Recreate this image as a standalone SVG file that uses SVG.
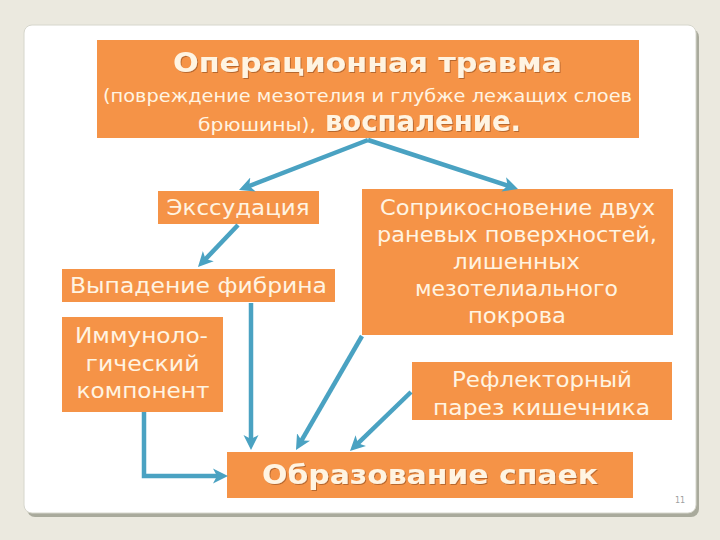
<svg xmlns="http://www.w3.org/2000/svg" width="720" height="540" viewBox="0 0 720 540">
<defs>
<style>
.box{fill:#F59347;}
.t{font-family:"DejaVu Sans",sans-serif;fill:#FFF4E2;text-anchor:middle;}
.r{font-size:21px;}
.s{font-size:18px;}
.b{font-weight:bold;filter:url(#sh);}
.c{fill:none;stroke:#4AA2C2;stroke-width:4.5;}
</style>
<filter id="sh" x="-5%" y="-20%" width="110%" height="140%">
<feDropShadow dx="1" dy="1" stdDeviation="0.6" flood-color="#7a3d10" flood-opacity="0.5"/>
</filter>
<marker id="ah" markerUnits="userSpaceOnUse" markerWidth="18" markerHeight="18" viewBox="0 0 18 18" refX="9" refY="9" orient="auto">
<path d="M0,1.5 L15,9 L0,16.5 L4,9 z" fill="#4AA2C2"/>
</marker>
</defs>
<rect width="720" height="540" fill="#EBE9DF"/>
<rect x="27" y="29" width="672" height="488" rx="8" fill="#A9AA9C"/>
<rect x="24" y="25" width="672" height="488" rx="8" fill="#FFFFFF" stroke="#D6D6CC" stroke-width="1"/>

<g id="n-top">
<rect class="box" x="97" y="40" width="542" height="98"/>
<text class="t b" x="367.5" y="72" font-size="26" textLength="389" lengthAdjust="spacingAndGlyphs">Операционная травма</text>
<text class="t s" x="367.5" y="102" textLength="529" lengthAdjust="spacingAndGlyphs">(повреждение мезотелия и глубже лежащих слоев</text>
<text class="t s" x="257" y="131" textLength="118" lengthAdjust="spacingAndGlyphs">брюшины),</text>
<text class="t b" x="423" y="131" font-size="28" textLength="196" lengthAdjust="spacingAndGlyphs">воспаление.</text>
</g>

<g id="n-exs">
<rect class="box" x="158" y="191" width="161" height="33"/>
<text class="t r" x="238" y="215" textLength="143" lengthAdjust="spacingAndGlyphs">Экссудация</text>
</g>

<g id="n-fib">
<rect class="box" x="62" y="269" width="273" height="33"/>
<text class="t r" x="198.5" y="293" textLength="257" lengthAdjust="spacingAndGlyphs">Выпадение фибрина</text>
</g>

<g id="n-imm">
<rect class="box" x="62" y="317" width="161" height="95"/>
<text class="t r" x="141.5" y="343" textLength="133" lengthAdjust="spacingAndGlyphs">Иммуноло-</text>
<text class="t r" x="142.5" y="371" textLength="114" lengthAdjust="spacingAndGlyphs">гический</text>
<text class="t r" x="143" y="398" textLength="133" lengthAdjust="spacingAndGlyphs">компонент</text>
</g>

<g id="n-contact">
<rect class="box" x="362" y="189" width="311" height="146"/>
<text class="t r" x="517.5" y="215" textLength="275" lengthAdjust="spacingAndGlyphs">Соприкосновение двух</text>
<text class="t r" x="517" y="242" textLength="280" lengthAdjust="spacingAndGlyphs">раневых поверхностей,</text>
<text class="t r" x="516.5" y="269" textLength="127" lengthAdjust="spacingAndGlyphs">лишенных</text>
<text class="t r" x="516.5" y="296" textLength="203" lengthAdjust="spacingAndGlyphs">мезотелиального</text>
<text class="t r" x="517" y="323" textLength="98" lengthAdjust="spacingAndGlyphs">покрова</text>
</g>

<g id="n-refl">
<rect class="box" x="412" y="362" width="260" height="58"/>
<text class="t r" x="542" y="387" textLength="180" lengthAdjust="spacingAndGlyphs">Рефлекторный</text>
<text class="t r" x="541.5" y="415" textLength="217" lengthAdjust="spacingAndGlyphs">парез кишечника</text>
</g>

<g id="n-adh">
<rect class="box" x="227" y="452" width="406" height="46"/>
<text class="t b" x="430" y="484" font-size="26" textLength="336" lengthAdjust="spacingAndGlyphs">Образование спаек</text>
</g>

<g id="connectors">
<line class="c" x1="368" y1="140" x2="244.6" y2="187.8" marker-end="url(#ah)"/>
<line class="c" x1="368" y1="140" x2="512.3" y2="187.1" marker-end="url(#ah)"/>
<line class="c" x1="238" y1="225" x2="202.1" y2="262.7" marker-end="url(#ah)"/>
<line class="c" x1="251" y1="303" x2="251" y2="444" marker-end="url(#ah)"/>
<polyline class="c" points="144,412 144,476 222,476" marker-end="url(#ah)"/>
<line class="c" x1="362" y1="336" x2="299" y2="444.8" marker-end="url(#ah)"/>
<line class="c" x1="411" y1="392" x2="354.3" y2="446.8" marker-end="url(#ah)"/>
</g>

<text x="680" y="503" font-family="DejaVu Sans, sans-serif" font-size="8" fill="#A0A0A0" text-anchor="middle">11</text>
</svg>
